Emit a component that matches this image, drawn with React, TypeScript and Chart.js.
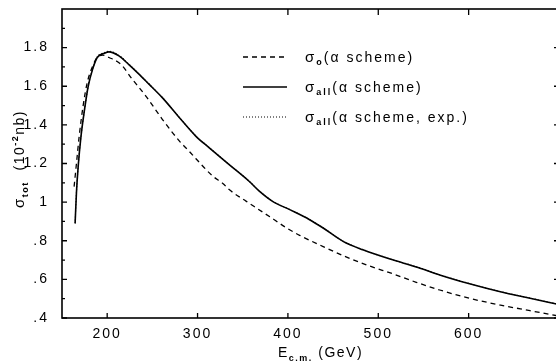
import React, { useEffect, useRef } from "react";
import { Chart, registerables } from "chart.js";

Chart.register(...registerables);

// sigma_0 (alpha scheme) — dashed
const sigma0E = [163.4, 166, 169, 173.4, 178, 184, 189, 195, 202, 215, 228, 235, 243, 261, 280, 291, 298, 317, 328, 335, 354, 365, 380, 398, 413, 439, 465, 490, 516, 542, 568, 601, 634, 668, 700];
const sigma0V = [1.08, 1.2, 1.34, 1.5, 1.62, 1.705, 1.749, 1.761, 1.749, 1.714, 1.635, 1.595, 1.548, 1.429, 1.316, 1.262, 1.226, 1.134, 1.097, 1.065, 1.004, 0.97, 0.924, 0.868, 0.828, 0.77, 0.715, 0.67, 0.629, 0.585, 0.545, 0.502, 0.468, 0.438, 0.41];

// sigma_all (alpha scheme) — solid
const sigmaAllE = [164.5, 166, 168, 171, 174.5, 179, 184, 189, 197, 202, 213, 224, 234, 246, 261, 280, 298, 313, 335, 357, 368, 383, 402, 424, 439, 461, 483, 513, 544, 568, 601, 634, 668, 700];
const sigmaAllV = [0.89, 1.05, 1.19, 1.34, 1.465, 1.6, 1.69, 1.749, 1.771, 1.778, 1.757, 1.712, 1.668, 1.612, 1.541, 1.437, 1.342, 1.281, 1.194, 1.108, 1.058, 1.004, 0.961, 0.909, 0.866, 0.797, 0.753, 0.705, 0.662, 0.623, 0.577, 0.537, 0.502, 0.47];

// sigma_all (alpha scheme, exp.) — dotted
const sigmaExpE = [164.5, 166, 168, 171, 174.5, 179, 184, 189, 197, 202, 213, 224, 234, 246, 261, 280, 298, 313, 335, 357, 368, 383, 402, 424, 439, 461, 483, 513, 544, 568, 601, 634, 668, 700];
const sigmaExpV = [0.89, 1.05, 1.19, 1.34, 1.466, 1.602, 1.692, 1.752, 1.774, 1.781, 1.76, 1.714, 1.669, 1.613, 1.542, 1.438, 1.343, 1.282, 1.195, 1.109, 1.059, 1.005, 0.962, 0.91, 0.867, 0.798, 0.754, 0.706, 0.663, 0.624, 0.578, 0.538, 0.503, 0.471];

const xTicks = [200, 300, 400, 500, 600];
const xTickMarks = [200, 300, 400, 500, 600];
const yTicks = [0.4, 0.6, 0.8, 1.0, 1.2, 1.4, 1.6, 1.8];
const yMinorTicks = [0.5, 0.7, 0.9, 1.1, 1.3, 1.5, 1.7, 1.9];

const FONT = "'Liberation Sans', Arial, sans-serif";

type Part = { t: string; size: number; dy?: number; bold?: boolean };

function drawRich(ctx: CanvasRenderingContext2D, parts: Part[], x: number, y: number) {
  let cx = x;
  for (const p of parts) {
    ctx.font = `${p.bold ? "bold " : ""}${p.size}px ${FONT}`;
    ctx.fillText(p.t, cx, y + (p.dy || 0));
    cx += ctx.measureText(p.t).width;
  }
  return cx - x;
}
function measureRich(ctx: CanvasRenderingContext2D, parts: Part[]) {
  let w = 0;
  for (const p of parts) {
    ctx.font = `${p.bold ? "bold " : ""}${p.size}px ${FONT}`;
    w += ctx.measureText(p.t).width;
  }
  return w;
}

const framePlugin = {
  id: "frame",
  beforeDraw(chart: any) {
    (chart.ctx as any).letterSpacing = "2px";
  },
  afterDraw(chart: any) {
    const ctx: CanvasRenderingContext2D = chart.ctx;
    const { left, right, top, bottom } = chart.chartArea;
    const x = chart.scales.x;
    const y = chart.scales.y;
    ctx.save();
    ctx.strokeStyle = "#000";
    ctx.fillStyle = "#000";
    ctx.setLineDash([]);
    ctx.lineWidth = 1.6;
    ctx.strokeRect(left, top, right - left, bottom - top);
    ctx.lineWidth = 1.3;
    ctx.beginPath();
    for (const v of xTickMarks) {
      const px = x.getPixelForValue(v);
      ctx.moveTo(px, bottom);
      ctx.lineTo(px, bottom - 5);
      ctx.moveTo(px, top);
      ctx.lineTo(px, top + 6);
    }
    for (const v of yTicks) {
      const py = y.getPixelForValue(v);
      ctx.moveTo(left, py);
      ctx.lineTo(left + 5, py);
      ctx.moveTo(right, py);
      ctx.lineTo(right - 5, py);
    }
    for (const v of yMinorTicks) {
      const py = y.getPixelForValue(v);
      ctx.moveTo(left, py);
      ctx.lineTo(left + 3, py);
      ctx.moveTo(right, py);
      ctx.lineTo(right - 3, py);
    }
    ctx.stroke();

    // legend
    const rows = [
      { y: 57, dash: [5, 4], w: 1.3, sub: "o", rest: "(α scheme)" },
      { y: 87, dash: [], w: 1.6, sub: "all", rest: "(α scheme)" },
      { y: 117, dash: [1, 2], w: 1.2, sub: "all", rest: "(α scheme, exp.)" },
    ];
    (ctx as any).letterSpacing = "2px";
    ctx.textBaseline = "alphabetic";
    ctx.textAlign = "left";
    for (const r of rows) {
      ctx.beginPath();
      ctx.setLineDash(r.dash);
      ctx.lineWidth = r.w;
      ctx.moveTo(243, r.y);
      ctx.lineTo(287, r.y);
      ctx.stroke();
      ctx.setLineDash([]);
      drawRich(
        ctx,
        [
          { t: "σ", size: 15 },
          { t: r.sub, size: 9, dy: 3, bold: true },
          { t: r.rest, size: 14 },
        ],
        305,
        r.y + 5
      );
    }

    // x title
    (ctx as any).letterSpacing = "1.5px";
    drawRich(
      ctx,
      [
        { t: "E", size: 14 },
        { t: "c.m.", size: 9, dy: 4, bold: true },
        { t: " (GeV)", size: 14 },
      ],
      278,
      357
    );

    // y title
    const yParts: Part[] = [
      { t: "σ", size: 15 },
      { t: "tot", size: 9, dy: 4, bold: true },
      { t: "  (10", size: 14 },
      { t: "-2", size: 9, dy: -6, bold: true },
      { t: "nb)", size: 14 },
    ];
    const tw = measureRich(ctx, yParts);
    ctx.translate(24, 159);
    ctx.rotate(-Math.PI / 2);
    drawRich(ctx, yParts, -tw / 2, 0);
    ctx.restore();
  },
};

function yLabel(v: number) {
  const s = Number(v).toFixed(1);
  if (s.endsWith(".0")) return s.slice(0, -2);
  if (s.startsWith("0")) return s.slice(1);
  return s;
}

export default function App() {
  const ref = useRef<HTMLCanvasElement>(null);
  useEffect(() => {
    document.body.style.margin = "0";
    document.body.style.overflow = "hidden";
    const chart = new Chart(ref.current as HTMLCanvasElement, {
      type: "line",
      data: {
        datasets: [
          {
            data: sigma0E.map((e, i) => ({ x: e, y: sigma0V[i] })),
            borderColor: "#000",
            borderWidth: 1.3,
            borderDash: [5, 4],
            pointRadius: 0,
            cubicInterpolationMode: "monotone",
          },
          {
            data: sigmaAllE.map((e, i) => ({ x: e, y: sigmaAllV[i] })),
            borderColor: "#000",
            borderWidth: 1.6,
            pointRadius: 0,
            cubicInterpolationMode: "monotone",
          },
          {
            data: sigmaExpE.map((e, i) => ({ x: e, y: sigmaExpV[i] })),
            borderColor: "#000",
            borderWidth: 1.1,
            borderDash: [1, 2],
            pointRadius: 0,
            cubicInterpolationMode: "monotone",
          },
        ],
      },
      options: {
        responsive: false,
        animation: false,
        devicePixelRatio: 1,
        layout: { padding: { left: 0, top: 9, right: 1, bottom: 0 } },
        plugins: { legend: { display: false }, tooltip: { enabled: false } },
        scales: {
          x: {
            type: "linear",
            min: 150,
            max: 700,
            grid: { display: false },
            border: { display: false },
            ticks: {
              color: "#000",
              font: { family: FONT, size: 14 },
              padding: 0,
              maxRotation: 0,
              autoSkip: false,
              callback: (v: any) => String(v),
            },
            afterBuildTicks: (s: any) => {
              s.ticks = xTicks.map((v) => ({ value: v }));
            },
            afterFit: (s: any) => {
              s.height = 44;
              s.paddingLeft = 0;
              s.paddingRight = 0;
            },
          },
          y: {
            type: "linear",
            min: 0.4,
            max: 2.0,
            grid: { display: false },
            border: { display: false },
            ticks: {
              color: "#000",
              font: { family: FONT, size: 14 },
              padding: 5,
              autoSkip: false,
              callback: (v: any) => yLabel(v),
            },
            afterBuildTicks: (s: any) => {
              s.ticks = yTicks.map((v) => ({ value: v }));
            },
            afterFit: (s: any) => {
              s.width = 62;
              s.paddingTop = 0;
              s.paddingBottom = 0;
            },
          },
        },
      },
      plugins: [framePlugin],
    } as any);
    return () => chart.destroy();
  }, []);
  return (
    <canvas
      ref={ref}
      width={560}
      height={362}
      style={{ position: "absolute", left: 0, top: 0, width: 560, height: 362 }}
    />
  );
}
